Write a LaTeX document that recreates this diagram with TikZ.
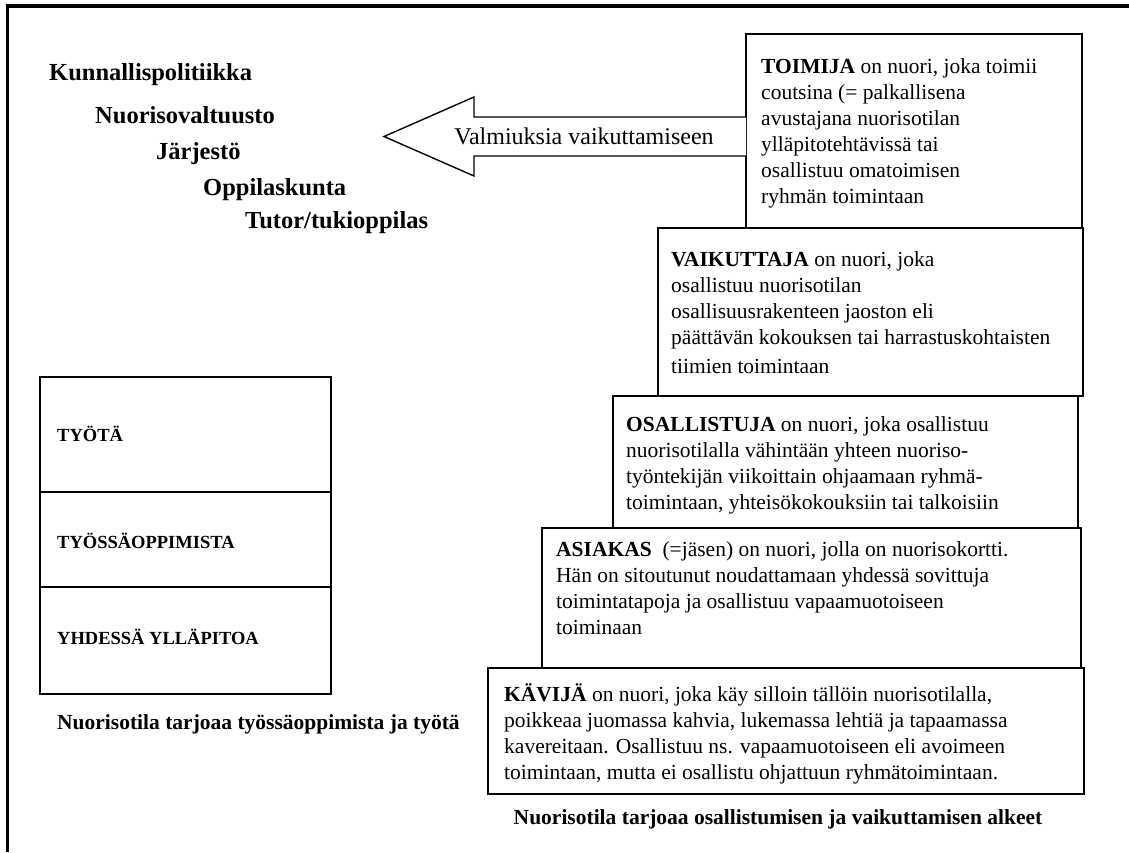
\documentclass[tikz,border=0pt]{standalone}
\usepackage{fontspec}
\setmainfont{Liberation Serif}
\begin{document}
\begin{tikzpicture}[x=1pt,y=-1pt,
  frame/.style={line width=3.5pt},
  boxline/.style={line width=1.4pt},
  body/.style={anchor=base west, inner sep=0pt, align=left, font=\fontsize{21.5}{26}\selectfont},
  level/.style={anchor=base west, inner sep=0pt, font=\fontsize{24.5}{28}\selectfont\bfseries},
  cellText/.style={anchor=base west, inner sep=0pt, font=\fontsize{18.5}{22}\selectfont\bfseries},
  caption/.style={inner sep=0pt, font=\fontsize{21.5}{26}\selectfont\bfseries},
  arrowText/.style={anchor=base, inner sep=0pt, font=\fontsize{24}{28}\selectfont}
]
\useasboundingbox (0,0) rectangle (1129,852);
% outer frame
\draw[frame] (7.5,852) -- (7.5,6) -- (1129,6);

% staircase boxes
\draw[boxline] (746,34) rectangle (1082,228);
\draw[boxline] (658,228) rectangle (1083,396);
\draw[boxline] (613,396) rectangle (1078,528);
\draw[boxline] (542,528) rectangle (1081,668);
\draw[boxline] (488,668) rectangle (1084,794);

% texts (anchor = baseline of the last line)
\node[body] (toimija) at (761,203) {\textbf{TOIMIJA} on nuori, joka toimii\\coutsina (= palkallisena\\avustajana nuorisotilan\\ylläpitotehtävissä tai\\osallistuu omatoimisen\\ryhmän toimintaan};
\node[body] (vaikuttaja) at (671,373) {\textbf{VAIKUTTAJA} on nuori, joka\\osallistuu nuorisotilan\\osallisuusrakenteen jaoston eli\\päättävän kokouksen tai harrastuskohtaisten\\[3pt]tiimien toimintaan};
\node[body] (osallistuja) at (626,509) {\textbf{OSALLISTUJA} on nuori, joka osallistuu\\nuorisotilalla vähintään yhteen nuoriso-\\työntekijän viikoittain ohjaamaan ryhmä-\\toimintaan, yhteisökokouksiin tai talkoisiin};
\node[body] (asiakas) at (556,634) {\textbf{ASIAKAS}~ (=jäsen) on nuori, jolla on nuorisokortti.\\Hän on sitoutunut noudattamaan yhdessä sovittuja\\toimintatapoja ja osallistuu vapaamuotoiseen\\toiminaan};
\node[body] (kavija) at (504,779) {\textbf{KÄVIJÄ} on nuori, joka käy silloin tällöin nuorisotilalla,\\poikkeaa juomassa kahvia, lukemassa lehtiä ja tapaamassa\\kavereitaan. Osallistuu ns. vapaamuotoiseen eli avoimeen\\toimintaan, mutta ei osallistu ohjattuun ryhmätoimintaan.};
\node[caption, anchor=base] (capR) at (778,824) {Nuorisotila tarjoaa osallistumisen ja vaikuttamisen alkeet};

% arrow
\draw[boxline, fill=white, line join=miter] (746,117) -- (474,117) -- (474,97) -- (384,136.5) -- (474,176) -- (474,156) -- (746,156);
\node[arrowText] (valm) at (584,144) {Valmiuksia vaikuttamiseen};

% left labels
\node[level] (kunta) at (49,80) {Kunnallispolitiikka};
\node[level] (nv) at (95,123) {Nuorisovaltuusto};
\node[level] (jarj) at (156,159) {Järjestö};
\node[level] (oppk) at (203,195) {Oppilaskunta};
\node[level] (tutor) at (245,228) {Tutor/tukioppilas};

% left box
\draw[boxline] (40,377) rectangle (331,694);
\draw[boxline] (40,492) -- (331,492);
\draw[boxline] (40,587) -- (331,587);
\node[cellText] (tyota) at (57,441) {TYÖTÄ};
\node[cellText] (tyoss) at (57,548) {TYÖSSÄOPPIMISTA};
\node[cellText] (yhd) at (57,644) {YHDESSÄ YLLÄPITOA};
\node[caption, anchor=base west] (capL) at (57,729) {Nuorisotila tarjoaa työssäoppimista ja työtä};
\end{tikzpicture}
\end{document}
